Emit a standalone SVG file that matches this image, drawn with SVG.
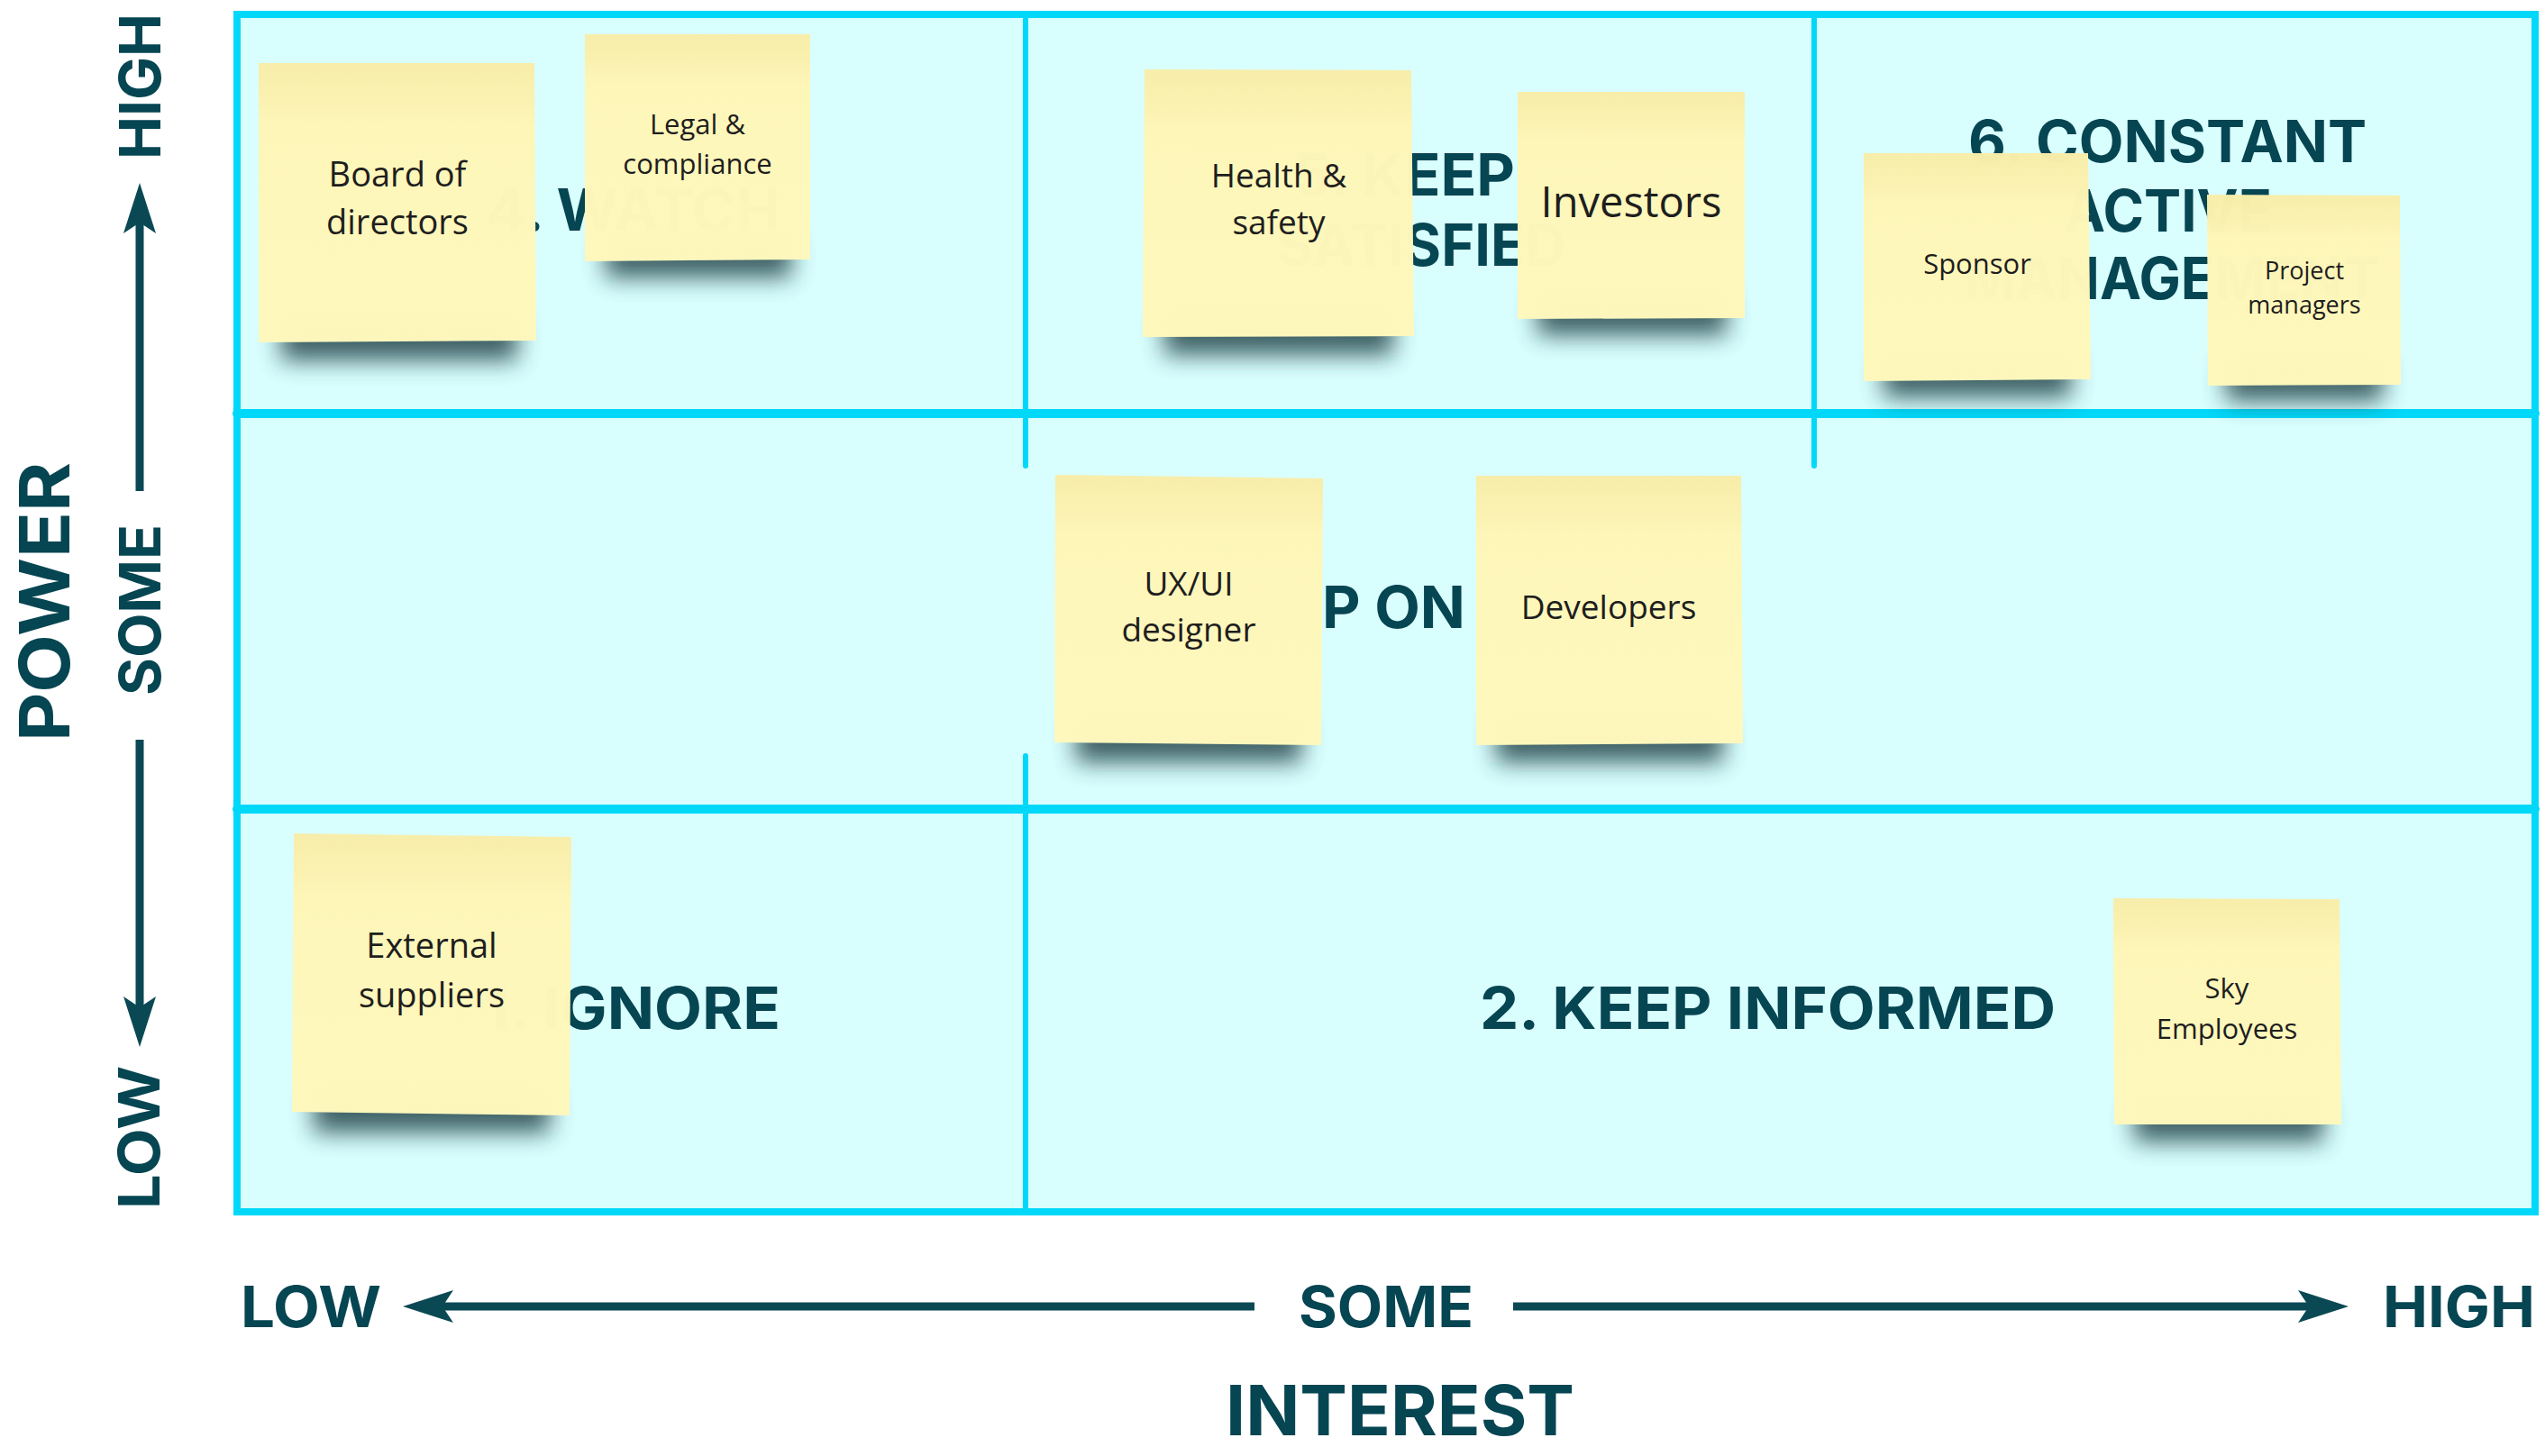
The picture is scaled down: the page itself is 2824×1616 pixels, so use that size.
<svg xmlns="http://www.w3.org/2000/svg" width="2824" height="1616" viewBox="0 0 2824 1616">
  <defs>
    <style>
      .cell { fill: #D9FEFE; }
      .gridline { stroke: #00D8F9; fill: none; stroke-linecap: round; }
      .zone { font-family: Inter, "Open Sans", "DejaVu Sans", sans-serif; font-weight: 700; font-size: 65px; fill: #064552; }
      .axis { font-family: Inter, "Open Sans", "DejaVu Sans", sans-serif; font-weight: 700; fill: #064552; }
      .axisline { stroke: #0A4954; stroke-width: 9; fill: none; }
      .note { fill: url(#noteFill); fill-opacity: 0.988; }
      .shadow { fill: #173A40; opacity: 0.8; filter: url(#shadowBlur); }
      .label { font-family: "Open Sans", "Noto Sans", sans-serif; fill: #1E1E1E; text-anchor: middle; }
    </style>
    <linearGradient id="noteFill" x1="0" y1="0" x2="0" y2="1">
      <stop offset="0" stop-color="#F8EDA9"/>
      <stop offset="0.15" stop-color="#FBF2B1"/>
      <stop offset="0.22" stop-color="#FEF6B8"/>
      <stop offset="1" stop-color="#FFF8BD"/>
    </linearGradient>
    <filter id="shadowBlur" x="-30%" y="-100%" width="160%" height="300%">
      <feGaussianBlur stdDeviation="13"/>
    </filter>
    <marker id="head" markerUnits="userSpaceOnUse" viewBox="0 0 56 36" refX="12" refY="18" markerWidth="56" markerHeight="36" orient="auto">
      <path d="M0,0 L56,18 L0,36 L12,18 Z" fill="#0A4954"/>
    </marker>
  </defs>

  <rect width="2824" height="1616" fill="#FFFFFF"/>

  <!-- 3x3 power / interest grid -->
  <g id="grid">
    <rect class="cell" x="263" y="16" width="2550" height="1329"/>
    <rect class="gridline" x="263" y="16" width="2550" height="1329" stroke-width="8" stroke-linecap="butt"/>
    <line class="gridline" x1="263" y1="459" x2="2813" y2="459" stroke-width="10"/>
    <line class="gridline" x1="263" y1="898" x2="2813" y2="898" stroke-width="10"/>
    <line class="gridline" x1="1138" y1="16" x2="1138" y2="517" stroke-width="6"/>
    <line class="gridline" x1="1138" y1="839" x2="1138" y2="1345" stroke-width="6"/>
    <line class="gridline" x1="2013" y1="16" x2="2013" y2="517" stroke-width="6"/>
  </g>

  <!-- zone titles -->
  <g id="zone-titles">
    <text class="zone" x="539" y="256" textLength="327" lengthAdjust="spacingAndGlyphs">4. WATCH</text>
    <text class="zone" x="1435" y="217" textLength="246" lengthAdjust="spacingAndGlyphs">5. KEEP</text>
    <text class="zone" x="1416" y="295" textLength="322" lengthAdjust="spacingAndGlyphs">SATISFIED</text>
    <text class="zone" x="2184" y="180" textLength="442" lengthAdjust="spacingAndGlyphs">6. CONSTANT</text>
    <text class="zone" x="2290" y="257" textLength="231" lengthAdjust="spacingAndGlyphs">ACTIVE</text>
    <text class="zone" x="2179" y="332" textLength="462" lengthAdjust="spacingAndGlyphs">MANAGEMENT</text>
    <text class="zone" x="1467" y="697" textLength="159" lengthAdjust="spacingAndGlyphs">P ON</text>
    <text class="zone" x="536" y="1142" textLength="330" lengthAdjust="spacingAndGlyphs">1. IGNORE</text>
    <text class="zone" x="1642" y="1142" textLength="639" lengthAdjust="spacingAndGlyphs">2. KEEP INFORMED</text>
  </g>

  <!-- sticky notes -->
  <g id="note-board">
    <rect class="shadow" x="312" y="352" width="262" height="48"/>
    <polygon class="note" points="287,70 593,70 595,378 287,380"/>
    <text class="label" font-size="38"><tspan x="441" y="207">Board of</tspan><tspan x="441" y="260">directors</tspan></text>
  </g>
  <g id="note-legal">
    <rect class="shadow" x="672" y="262" width="206" height="46"/>
    <polygon class="note" points="649,38 899,38 899,288 649,290"/>
    <text class="label" font-size="31"><tspan x="774" y="149">Legal &amp;</tspan><tspan x="774" y="193">compliance</tspan></text>
  </g>
  <g id="note-health">
    <rect class="shadow" x="1292" y="346" width="254" height="48"/>
    <polygon class="note" points="1270,77 1566,78 1569,373 1268,374"/>
    <text class="label" font-size="37"><tspan x="1419" y="208">Health &amp;</tspan><tspan x="1419" y="260">safety</tspan></text>
  </g>
  <g id="note-investors">
    <rect class="shadow" x="1706" y="326" width="210" height="46"/>
    <polygon class="note" points="1684,102 1936,102 1936,353 1684,354"/>
    <text class="label" font-size="47" x="1810" y="241">Investors</text>
  </g>
  <g id="note-sponsor">
    <rect class="shadow" x="2090" y="395" width="208" height="46"/>
    <polygon class="note" points="2068,170 2317,170 2320,421 2068,423"/>
    <text class="label" font-size="31" x="2194" y="304">Sponsor</text>
  </g>
  <g id="note-project-managers">
    <rect class="shadow" x="2470" y="401" width="174" height="44"/>
    <polygon class="note" points="2449,216 2663,217 2664,427 2450,428"/>
    <text class="label" font-size="27"><tspan x="2557" y="310">Project</tspan><tspan x="2557" y="348">managers</tspan></text>
  </g>
  <g id="note-uxui">
    <rect class="shadow" x="1194" y="798" width="250" height="48"/>
    <polygon class="note" points="1171,527 1468,531 1466,827 1170,824"/>
    <text class="label" font-size="37"><tspan x="1319" y="661">UX/UI</tspan><tspan x="1319" y="712">designer</tspan></text>
  </g>
  <g id="note-developers">
    <rect class="shadow" x="1660" y="798" width="252" height="48"/>
    <polygon class="note" points="1638,528 1932,528 1934,825 1638,827"/>
    <text class="label" font-size="37" x="1785" y="687">Developers</text>
  </g>
  <g id="note-external">
    <rect class="shadow" x="348" y="1209" width="262" height="48"/>
    <polygon class="note" points="326,925 634,929 632,1238 324,1234"/>
    <text class="label" font-size="38"><tspan x="479" y="1063">External</tspan><tspan x="479" y="1118">suppliers</tspan></text>
  </g>
  <g id="note-sky">
    <rect class="shadow" x="2368" y="1221" width="210" height="46"/>
    <polygon class="note" points="2345,997 2596,998 2598,1248 2346,1248"/>
    <text class="label" font-size="31"><tspan x="2471" y="1108">Sky</tspan><tspan x="2471" y="1153">Employees</tspan></text>
  </g>

  <!-- axis arrows -->
  <g id="connectors">
    <path class="axisline" d="M155,545 L155,247" marker-end="url(#head)"/>
    <path class="axisline" d="M155,821 L155,1118" marker-end="url(#head)"/>
    <path class="axisline" d="M1392,1450 L491,1450" marker-end="url(#head)"/>
    <path class="axisline" d="M1679,1450 L2562,1450" marker-end="url(#head)"/>
  </g>

  <!-- axis labels -->
  <g id="axis-power">
    <text class="axis" font-size="77" transform="translate(77,823) rotate(-90)" textLength="310" lengthAdjust="spacingAndGlyphs">POWER</text>
    <text class="axis" font-size="63" transform="translate(178,177) rotate(-90)" textLength="162" lengthAdjust="spacingAndGlyphs">HIGH</text>
    <text class="axis" font-size="63" transform="translate(178,772) rotate(-90)" textLength="190" lengthAdjust="spacingAndGlyphs">SOME</text>
    <text class="axis" font-size="63" transform="translate(177,1342) rotate(-90)" textLength="159" lengthAdjust="spacingAndGlyphs">LOW</text>
  </g>
  <g id="axis-interest">
    <text class="axis" font-size="63" x="267" y="1473" textLength="156" lengthAdjust="spacingAndGlyphs">LOW</text>
    <text class="axis" font-size="63" x="1441" y="1473" textLength="194" lengthAdjust="spacingAndGlyphs">SOME</text>
    <text class="axis" font-size="63" x="2644" y="1473" textLength="169" lengthAdjust="spacingAndGlyphs">HIGH</text>
    <text class="axis" font-size="77" x="1360" y="1593" textLength="387" lengthAdjust="spacingAndGlyphs">INTEREST</text>
  </g>
</svg>
